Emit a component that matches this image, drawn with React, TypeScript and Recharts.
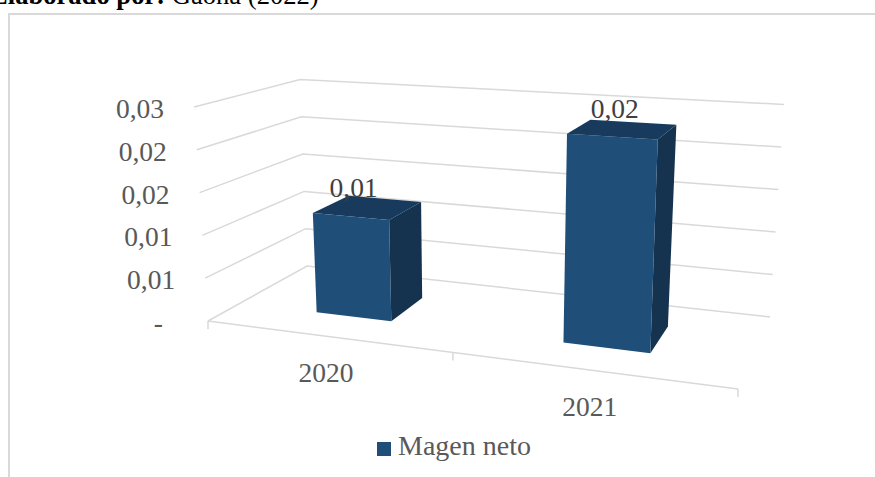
import { Bar, BarChart, CartesianGrid, LabelList, Legend, XAxis, YAxis } from "recharts";

const CATEGORIES = ["2020", "2021"];
const MARGEN_NETO = [0.0142, 0.0279];
const BAR_LABELS = ["0,01", "0,02"];
const Y_TICKS = [0, 0.006, 0.012, 0.018, 0.024, 0.03];
const SERIES_NAME = "Magen neto";

const data = CATEGORIES.map((year, i) => ({ year, value: MARGEN_NETO[i] }));

const WIDTH = 875;
const HEIGHT = 477;
// flat plot rectangle that recharts scales into, then bent into the 3D box
const PLOT = { left: 200, right: 740, top: 80, bottom: 320 };

const GRID = "#d9d9d9";
const TEXT = "#595959";
const FONT = "'Liberation Serif', serif";
const FRONT = "#1f4e79";
const TOP = "#173a5d";
const SIDE = "#15324f";

// bar depth inside the floor (0 = front edge, 1 = back wall)
const BAR_NEAR = 0.33;
const BAR_FAR = 0.72;

function lerp(a: number, b: number, k: number) {
  return a + (b - a) * k;
}

// t: along category axis, d: depth, v: height, all 0..1
function project(t: number, d: number, v: number) {
  const u = (0.859 * t) / (1 - 0.141 * t);
  const leftX = lerp(208, 307, d);
  const leftY = lerp(321, 266, d);
  const rightX = lerp(738, 770, d);
  const rightY = lerp(389, 317, d);
  const hLeftX = lerp(-14, -7, d);
  const hLeftY = lerp(-214, -186.5, d);
  const hRightX = lerp(12, 14, d);
  const hRightY = lerp(-247, -212.5, d);
  return {
    x: lerp(leftX, rightX, u) + lerp(hLeftX, hRightX, u) * v,
    y: lerp(leftY, rightY, u) + lerp(hLeftY, hRightY, u) * v,
  };
}

const toT = (x: number) => (x - PLOT.left) / (PLOT.right - PLOT.left);
const toV = (y: number) => (PLOT.bottom - y) / (PLOT.bottom - PLOT.top);

function pts(list: { x: number; y: number }[]) {
  return list.map((p) => `${p.x},${p.y}`).join(" ");
}

function Box3D(props: any) {
  const { x, y, width, height } = props;
  const t0 = toT(x);
  const t1 = toT(x + width);
  const v = toV(y);
  const v0 = toV(y + height);
  const front = [
    project(t0, BAR_NEAR, v),
    project(t1, BAR_NEAR, v),
    project(t1, BAR_NEAR, v0),
    project(t0, BAR_NEAR, v0),
  ];
  const top = [
    project(t0, BAR_NEAR, v),
    project(t0, BAR_FAR, v),
    project(t1, BAR_FAR, v),
    project(t1, BAR_NEAR, v),
  ];
  const side = [
    project(t1, BAR_NEAR, v),
    project(t1, BAR_FAR, v),
    project(t1, BAR_FAR, v0),
    project(t1, BAR_NEAR, v0),
  ];
  return (
    <g>
      <polygon points={pts(side)} fill={SIDE} />
      <polygon points={pts(top)} fill={TOP} />
      <polygon points={pts(front)} fill={FRONT} />
    </g>
  );
}

function GridLine(props: any) {
  const v = toV(props.y1);
  const wall = [project(0, 0, v), project(0, 1, v), project(1, 1, v)];
  const isFloor = Math.abs(v) < 0.001;
  return (
    <g key={`grid-${props.y1}`}>
      <polyline points={pts(wall)} fill="none" stroke={GRID} strokeWidth={1.5} />
      {isFloor && (
        <>
          <polyline points={pts([project(0, 0, 0), project(1, 0, 0)])} fill="none" stroke={GRID} strokeWidth={1.5} />
          {[0, 0.5, 1].map((t) => {
            const p = project(t, 0, 0);
            return <line key={t} x1={p.x} y1={p.y} x2={p.x} y2={p.y + 8} stroke={GRID} strokeWidth={1.5} />;
          })}
        </>
      )}
    </g>
  );
}

function YTick(props: any) {
  const value = props.payload.value;
  const p = project(0, 0, toV(props.y));
  const label = value === 0 ? "-" : value.toFixed(2).replace(".", ",");
  return (
    <text
      x={p.x - (value === 0 ? 45 : 30)}
      y={p.y + 11}
      textAnchor="end"
      fill={TEXT}
      fontSize={27.5}
      fontFamily={FONT}
    >
      {label}
    </text>
  );
}

function XTick(props: any) {
  const p = project(toT(props.x), 0, 0);
  return (
    <text x={p.x} y={p.y + 46} textAnchor="middle" fill={TEXT} fontSize={27.5} fontFamily={FONT}>
      {props.payload.value}
    </text>
  );
}

function BarLabel(props: any) {
  const { x, y, width, index } = props;
  const p = project(toT(x + width / 2), BAR_NEAR, toV(y));
  return (
    <text x={p.x + 3} y={p.y - 19} textAnchor="middle" fill="#404040" fontSize={27.5} fontFamily={FONT}>
      {BAR_LABELS[index]}
    </text>
  );
}

export default function App() {
  return (
    <div style={{ position: "absolute", left: 0, top: 0, width: WIDTH, height: HEIGHT, overflow: "hidden", background: "#fff" }}>
      <div
        style={{
          position: "absolute",
          left: -10,
          top: -20,
          whiteSpace: "nowrap",
          fontFamily: FONT,
          fontSize: 26.6,
          lineHeight: "30px",
          color: "#000",
        }}
      >
        <b>Elaborado por:</b> Gaona (2022)
      </div>
      <div
        style={{
          position: "absolute",
          left: 8,
          top: 13,
          width: WIDTH,
          height: HEIGHT,
          borderLeft: `2px solid ${GRID}`,
          borderTop: `2px solid ${GRID}`,
        }}
      />
      <div style={{ position: "absolute", left: 0, top: 0 }}>
        <BarChart
          width={WIDTH}
          height={HEIGHT}
          data={data}
          barCategoryGap="34%"
          margin={{ top: PLOT.top, right: WIDTH - PLOT.right, bottom: 0, left: 0 }}
        >
          <CartesianGrid horizontal={(p: any) => <GridLine key={p.y1} {...p} />} vertical={false} />
          <XAxis dataKey="year" height={HEIGHT - PLOT.bottom} axisLine={false} tickLine={false} tick={(p: any) => <XTick {...p} />} />
          <YAxis
            width={PLOT.left}
            domain={[0, 0.03]}
            ticks={Y_TICKS}
            interval={0}
            axisLine={false}
            tickLine={false}
            tick={(p: any) => <YTick {...p} />}
          />
          <Legend
            layout="horizontal"
            verticalAlign="middle"
            align="center"
            iconType="square"
            iconSize={14}
            wrapperStyle={{ left: 349, top: 430, width: 220, textAlign: "left", fontFamily: FONT, fontSize: 28 }}
            formatter={(v: string) => <span style={{ color: TEXT, marginLeft: 3 }}>{v}</span>}
          />
          <Bar dataKey="value" name={SERIES_NAME} fill={FRONT} isAnimationActive={false} shape={(p: any) => <Box3D {...p} />}>
            <LabelList dataKey="value" content={(p: any) => <BarLabel {...p} />} />
          </Bar>
        </BarChart>
      </div>
    </div>
  );
}
